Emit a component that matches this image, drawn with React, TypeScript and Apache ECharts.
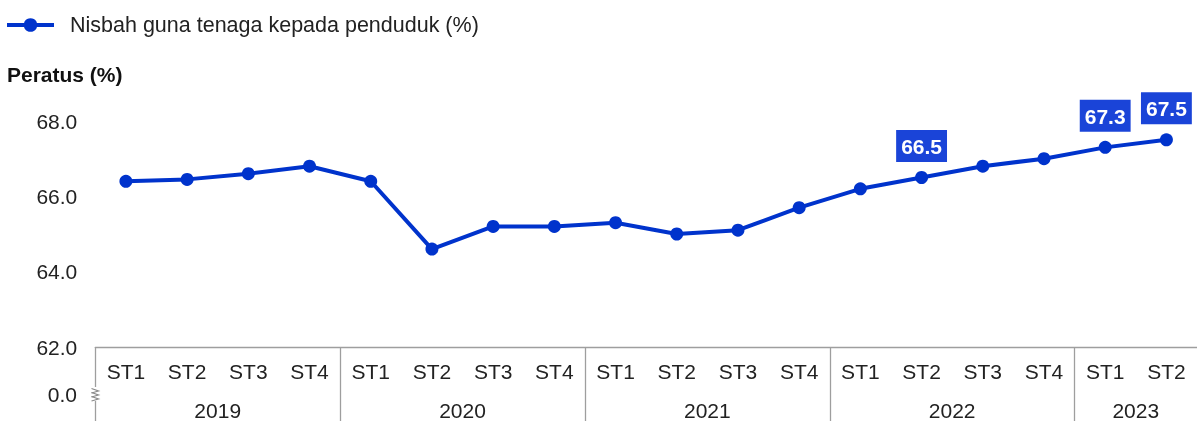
import React, { useEffect, useRef } from "react";
import * as echarts from "echarts";

const quarters = ["ST1","ST2","ST3","ST4","ST1","ST2","ST3","ST4","ST1","ST2","ST3","ST4","ST1","ST2","ST3","ST4","ST1","ST2"];
const years = ["2019", "2020", "2021", "2022", "2023"];
const yearSpans = [4, 4, 4, 4, 2];
const values = [66.4, 66.45, 66.6, 66.8, 66.4, 64.6, 65.2, 65.2, 65.3, 65.0, 65.1, 65.7, 66.2, 66.5, 66.8, 67.0, 67.3, 67.5];
const labelledIndices = [13, 16, 17];
const yTicks = [62, 64, 66, 68];
const seriesName = "Nisbah guna tenaga kepada penduduk (%)";
const yTitle = "Peratus (%)";

const FONT = "'Liberation Sans', Arial, sans-serif";

export default function App() {
  const ref = useRef<HTMLDivElement>(null);
  useEffect(() => {
    if (!ref.current) return;
    const chart = echarts.init(ref.current, null, { renderer: "svg" });
    const boundaries: number[] = [];
    const centers: number[] = [];
    let acc = 0;
    yearSpans.forEach((s) => {
      boundaries.push(acc);
      centers.push(acc + s / 2);
      acc += s;
    });
    const yearAt = (v: number) => {
      const i = centers.findIndex((c) => Math.abs(c - v) < 1e-6);
      return i >= 0 ? years[i] : "";
    };
    const gridLeft = 95.3;
    const gridTop = 121;
    const gridHeight = 226.3;
    const gray = "#9e9e9e";
    const FS = 21;
    chart.setOption({
      animation: false,
      textStyle: { fontFamily: FONT },
      title: {
        text: yTitle,
        left: 7,
        top: 64,
        padding: 0,
        textStyle: { fontFamily: FONT, fontSize: FS, fontWeight: "bold", color: "#111" },
      },
      legend: {
        left: 5,
        top: 14,
        padding: 0,
        itemWidth: 47,
        itemHeight: 17,
        lineStyle: { width: 4 },
        textStyle: { fontFamily: FONT, fontSize: 21.5, color: "#222", padding: [0, 0, 0, 11] },
        data: [seriesName],
      },
      grid: { left: gridLeft, top: gridTop, width: 1106.5, height: gridHeight, containLabel: false },
      xAxis: [
        {
          type: "category",
          data: quarters,
          boundaryGap: true,
          position: "bottom",
          axisLine: { show: true, lineStyle: { color: gray, width: 1.3 } },
          axisTick: { show: false },
          axisLabel: { interval: 0, margin: 14, fontSize: FS, color: "#222", fontFamily: FONT },
          splitLine: { show: false },
        },
        {
          type: "value",
          min: 0,
          max: acc,
          position: "bottom",
          offset: 0,
          axisLine: { show: false },
          axisTick: { show: true, customValues: boundaries, length: 75, lineStyle: { color: gray, width: 1.3 } },
          axisLabel: { show: true, customValues: centers, margin: 53, fontSize: FS, color: "#222", fontFamily: FONT, formatter: (v: number) => yearAt(v) },
          splitLine: { show: false },
        },
      ],
      yAxis: {
        type: "value",
        min: 62,
        max: 68,
        interval: 2,
        axisLine: { show: false },
        axisTick: { show: false },
        splitLine: { show: false },
        axisLabel: { margin: 18, fontSize: FS, color: "#222", fontFamily: FONT, formatter: (v: number) => v.toFixed(1), customValues: yTicks },
      },
      graphic: [
        { type: "text", x: 77, y: 394, z: 100, style: { text: "0.0", fill: "#222", font: `${FS}px ${FONT}`, align: "right", verticalAlign: "middle" } },
        { type: "rect", x: 91, y: 387, z: 100, shape: { width: 9, height: 14 }, style: { fill: "#fff" } },
        { type: "polyline", z: 101, shape: { points: [[91.5, 388.5], [98.5, 391], [91.5, 393]] }, style: { stroke: "#8a8a8a", lineWidth: 1.2, fill: "none" } },
        { type: "polyline", z: 101, shape: { points: [[91.5, 392.5], [98.5, 395], [91.5, 397]] }, style: { stroke: "#8a8a8a", lineWidth: 1.2, fill: "none" } },
        { type: "polyline", z: 101, shape: { points: [[91.5, 396.5], [98.5, 399], [91.5, 401]] }, style: { stroke: "#8a8a8a", lineWidth: 1.2, fill: "none" } },
      ],
      series: [
        {
          name: seriesName,
          type: "line",
          color: "#0033cc",
          symbol: "circle",
          symbolSize: 13,
          lineStyle: { width: 4, color: "#0033cc" },
          itemStyle: { color: "#0033cc" },
          data: values.map((v, i) => ({
            value: v,
            label: {
              show: labelledIndices.includes(i),
              position: "top",
              distance: 9,
              formatter: (p: any) => Number(p.value).toFixed(1),
              backgroundColor: "#1a44d8",
              color: "#fff",
              fontWeight: "bold",
              fontSize: FS,
              fontFamily: FONT,
              padding: [6, 5, 5, 5],
            },
          })),
        },
      ],
    });
    return () => chart.dispose();
  }, []);
  return <div ref={ref} style={{ position: "fixed", left: 0, top: 0, width: 1197, height: 421 }} />;
}
